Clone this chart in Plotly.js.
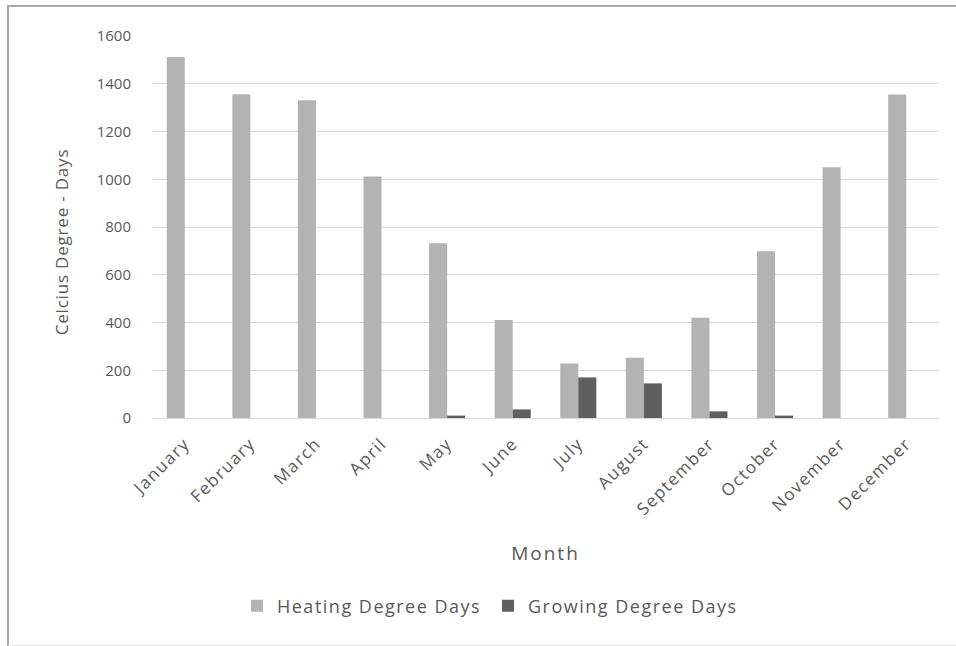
<!DOCTYPE html>
<html>
<head>
<meta charset="utf-8">
<script src="https://cdn.plot.ly/plotly-3.0.1.min.js"></script>
<style>
  html, body { margin: 0; padding: 0; background: #ffffff; }
  #wrap { position: relative; width: 956px; height: 646px; overflow: hidden; }
  #chart { position: absolute; left: 0; top: 0; width: 956px; height: 646px; }
  #frame {
    position: absolute; left: 7px; top: 5px; width: 960px; height: 638px;
    border-left: 2px solid #a9a9a9; border-top: 2px solid #a9a9a9;
    border-bottom: 1px solid #e6e6e6; pointer-events: none;
  }
  /* the month labels, axis titles and legend use a slightly tracked-out text */
  #chart .xtick text { letter-spacing: 1.5px; }
  #chart .g-xtitle text { letter-spacing: 2px; }
  #chart .annotation-text { letter-spacing: 0.8px; }
  #chart .legendtext { letter-spacing: 1.5px; }
</style>
</head>
<body>
<div id="wrap">
  <div id="chart"></div>
  <div id="frame"></div>
</div>
<script>
// Monthly degree-day totals
const months = ["January", "February", "March", "April", "May", "June",
                "July", "August", "September", "October", "November", "December"];
const heatingDegreeDays = [1512, 1356, 1331, 1011, 732, 410, 228, 252, 420, 698, 1050, 1355];
const growingDegreeDays = [0, 0, 0, 0, 10, 36, 170, 145, 28, 10, 0, 0];
const yTicks = [0, 200, 400, 600, 800, 1000, 1200, 1400, 1600];

const textColor = "#595959";
const fontFamily = "'Open Sans', 'Noto Sans', sans-serif";

const traces = [
  {
    type: "bar",
    name: "Heating Degree Days",
    x: months,
    y: heatingDegreeDays,
    marker: { color: "#b3b3b3", line: { width: 0 } }
  },
  {
    type: "bar",
    name: "Growing Degree Days",
    x: months,
    y: growingDegreeDays,
    marker: { color: "#5f5f5f", line: { width: 0 } }
  }
];

const layout = {
  width: 956,
  height: 646,
  margin: { l: 152, r: 17, t: 36, b: 228 },
  paper_bgcolor: "#ffffff",
  plot_bgcolor: "#ffffff",
  font: { family: fontFamily, color: textColor, size: 14 },
  barmode: "group",
  bargap: 0.45,
  bargroupgap: 0,
  showlegend: true,
  legend: {
    orientation: "h",
    x: 0.108, xanchor: "left",
    y: -0.492, yanchor: "middle",
    font: { size: 18, color: textColor },
    itemwidth: 30,
    entrywidth: 206,
    traceorder: "normal"
  },
  xaxis: {
    type: "category",
    tickangle: -45,
    showgrid: false,
    showline: true,
    linecolor: "#d9d9d9",
    linewidth: 1,
    ticks: "",
    ticklabelstandoff: 8,
    tickfont: { size: 17, color: textColor },
    title: { text: "Month", font: { size: 19, color: textColor }, standoff: 37 }
  },
  yaxis: {
    range: [0, 1600],
    tickvals: yTicks,
    ticktext: yTicks.map(String),
    showgrid: true,
    gridcolor: "#d9d9d9",
    gridwidth: 1,
    zeroline: false,
    showline: false,
    ticks: "",
    ticklabelstandoff: 20,
    tickfont: { size: 15, color: textColor }
  },
  // vertical axis caption, set a little below the middle of the plot area
  annotations: [
    {
      text: "Celcius Degree - Days",
      xref: "paper", yref: "paper",
      x: 0, y: 0.461,
      xanchor: "center", yanchor: "middle",
      xshift: -90,
      textangle: -90,
      showarrow: false,
      font: { size: 17, color: textColor }
    }
  ]
};

Plotly.newPlot("chart", traces, layout, { displayModeBar: false, staticPlot: true });
</script>
</body>
</html>
